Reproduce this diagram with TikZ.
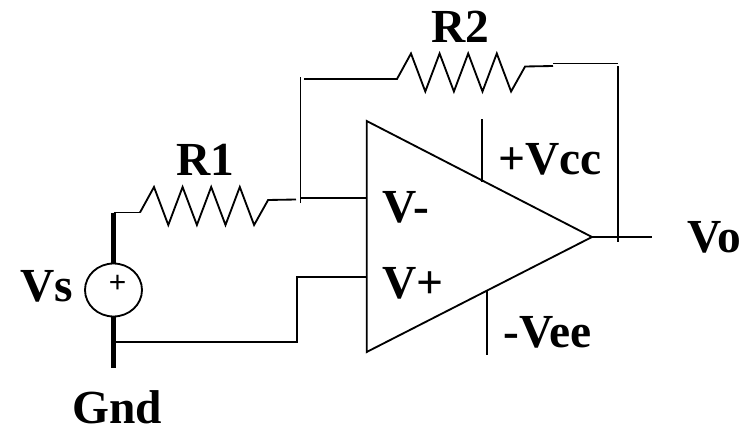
\documentclass[tikz,border=0pt]{standalone}
\usepackage{fontspec}
\setmainfont{Liberation Serif}
\newfontfamily\plusfont{Liberation Sans}
\usetikzlibrary{shapes.geometric}
\tikzstyle{wire}=[line width=1.05pt]
\tikzstyle{thickwire}=[line width=2.3pt]
\tikzstyle{lbl}=[anchor=base west,inner sep=0pt,font=\fontsize{27}{30}\selectfont\bfseries]
\tikzstyle{source}=[draw,line width=1.05pt,shape=ellipse,minimum width=1.14cm,minimum height=1.06cm,inner sep=0pt]

\begin{document}
\begin{tikzpicture}[x=0.02cm,y=-0.02cm]
\useasboundingbox (0,0) rectangle (752,426);
\node[source] (Vsrc) at (113.5,290) {};
\node[inner sep=0pt,font=\fontsize{17}{17}\selectfont\plusfont] (Plus) at (117.5,284) {+};
\coordinate (S1) at (113.5,212.5);
\coordinate (S2) at (113.5,368);
\coordinate (S3) at (113.5,342);
\coordinate (R1a) at (140,212.5);
\coordinate (R1b) at (296,199.5);
\coordinate (N1) at (300.5,203);
\coordinate (N2) at (300.5,77);
\coordinate (R2a) at (304,79);
\coordinate (R2b) at (553,66);
\coordinate (F1) at (553,63.5);
\coordinate (F2) at (618,63.5);
\coordinate (F3) at (618,66);
\coordinate (F4) at (618,242);
\coordinate (A) at (366.7,121);
\coordinate (B) at (366.7,352);
\coordinate (C) at (592,237);
\coordinate (In1) at (366.7,198);
\coordinate (In2) at (366.7,277);
\coordinate (L1) at (300,198);
\coordinate (L2) at (297,342);
\coordinate (L3) at (297,277);
\coordinate (Out) at (652,237);
\coordinate (P1) at (482,119);
\coordinate (P2) at (482,182);
\coordinate (M1) at (487,291);
\coordinate (M2) at (487,355);
% source
\draw[thickwire] (S1) -- (Vsrc.north);
\draw[thickwire] (Vsrc.south) -- (S2);
\draw[wire] (S1) -- (R1a);
\draw[wire] (S3) -- (L2) -- (L3) -- (In2);
% R1
\draw[wire] (R1a) -- ++(14,-25.5) \foreach \i in {1,2,3} {-- ++(14.3,38) -- ++(14.3,-38)} -- ++(14.3,38) -- ++(14,-25) -- (R1b);
\draw[wire] (L1) -- (In1);
\draw[wire] (N1) -- (N2);
% R2
\draw[wire] (R2a) -- (397,79) -- ++(14,-25.5) \foreach \i in {1,2,3} {-- ++(14.3,38) -- ++(14.3,-38)} -- ++(14.3,38) -- ++(14,-25) -- (R2b);
\draw[wire] (F1) -- (F2);
\draw[wire] (F3) -- (F4);
% opamp
\draw[wire,line join=miter] (A) -- (C) -- (B) -- cycle;
\draw[wire] (C) -- (Out);
\draw[wire] (P1) -- (P2);
\draw[wire] (M1) -- (M2);
% labels
\node[lbl] (LR1) at (176,175) {R1};
\node[lbl] (LR2) at (431,43) {R2};
\node[lbl] (LVs) at (20,301) {Vs};
\node[lbl] (LGnd) at (72,423) {Gnd};
\node[lbl] (LVm) at (382,222) {V-};
\node[lbl] (LVp) at (382,298) {V+};
\node[lbl] (LVcc) at (498,174) {+Vcc};
\node[lbl] (LVee) at (503,347) {-Vee};
\node[lbl] (LVo) at (687,253) {Vo};
\end{tikzpicture}
\end{document}
